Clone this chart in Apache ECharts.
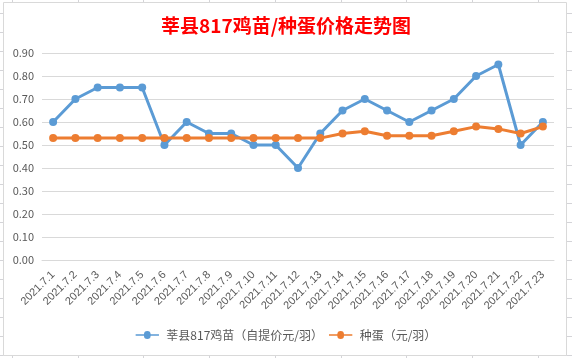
<!DOCTYPE html>
<html><head><meta charset="utf-8">
<script src="https://cdn.jsdelivr.net/npm/echarts@6/dist/echarts.min.js"></script>
<style>html,body{margin:0;padding:0;background:#fff}#c{width:572px;height:358px}</style>
</head><body><div id="c"></div>
<script>
var categories = ['2021.7.1','2021.7.2','2021.7.3','2021.7.4','2021.7.5','2021.7.6','2021.7.7','2021.7.8','2021.7.9','2021.7.10','2021.7.11','2021.7.12','2021.7.13','2021.7.14','2021.7.15','2021.7.16','2021.7.17','2021.7.18','2021.7.19','2021.7.20','2021.7.21','2021.7.22','2021.7.23'];
var chickPrice = [0.60,0.70,0.75,0.75,0.75,0.50,0.60,0.55,0.55,0.50,0.50,0.40,0.55,0.65,0.70,0.65,0.60,0.65,0.70,0.80,0.85,0.50,0.60];
var eggPrice = [0.53,0.53,0.53,0.53,0.53,0.53,0.53,0.53,0.53,0.53,0.53,0.53,0.53,0.55,0.56,0.54,0.54,0.54,0.56,0.58,0.57,0.55,0.58];
var seriesNames = ['莘县817鸡苗（自提价元/羽）','种蛋（元/羽）'];
var titleText = '莘县817鸡苗/种蛋价格走势图';

var font = '"Noto Sans CJK SC", "Noto Sans", sans-serif';
var bg = [];
// spreadsheet cell grid behind the chart
for (var x = 12; x < 572; x += 65.7) bg.push({type:'line', shape:{x1:Math.round(x)+0.5,y1:0,x2:Math.round(x)+0.5,y2:358}, style:{stroke:'#d4d4d8',lineWidth:1}, z:-10});
for (var y = 13; y < 358; y += 19) bg.push({type:'line', shape:{x1:0,y1:y+0.5,x2:572,y2:y+0.5}, style:{stroke:'#d4d4d8',lineWidth:1}, z:-10});
bg.push({type:'rect', shape:{x:3.5,y:2.5,width:563,height:353}, style:{fill:'#fff',stroke:'#d9d9d9',lineWidth:1}, z:-9});

var legendIcon = 'path://M0,3.2 L10,3.2 A4,4 0 1 1 18,3.2 L28,3.2 L28,4.8 L18,4.8 A4,4 0 1 1 10,4.8 L0,4.8 Z';
var chart = echarts.init(document.getElementById('c'));
chart.setOption({
  animation:false,
  graphic: bg,
  title:{text:titleText,left:'center',top:11,textStyle:{color:'#ff0000',fontSize:19,fontWeight:'bold',fontFamily:font}},
  grid:{left:42,right:18,top:53,bottom:98,containLabel:false},
  legend:{bottom:12,left:'center',itemWidth:28,itemHeight:8,itemGap:6,
    textStyle:{color:'#595959',fontSize:12,fontFamily:font},data:[
      {name:seriesNames[0],icon:legendIcon},
      {name:seriesNames[1],icon:legendIcon}]},
  xAxis:{type:'category',data:categories,boundaryGap:true,
    axisLine:{show:true,lineStyle:{color:'#d9d9d9'}},axisTick:{show:false},
    axisLabel:{rotate:45,interval:0,color:'#595959',fontSize:11,fontFamily:'"Liberation Sans", sans-serif',margin:13}},
  yAxis:{type:'value',min:0,max:0.9,interval:0.1,
    axisLine:{show:false},axisTick:{show:false},
    splitLine:{lineStyle:{color:'#d9d9d9'}},
    axisLabel:{color:'#595959',fontSize:11,fontFamily:font,margin:8,formatter:function(v){return v.toFixed(2);}}},
  series:[
    {name:seriesNames[0],type:'line',data:chickPrice,symbol:'circle',symbolSize:8,
      lineStyle:{width:3,color:'#5b9bd5'},itemStyle:{color:'#5b9bd5'}},
    {name:seriesNames[1],type:'line',data:eggPrice,symbol:'circle',symbolSize:8,
      lineStyle:{width:3,color:'#ed7d31'},itemStyle:{color:'#ed7d31'}}
  ]
});
</script></body></html>
